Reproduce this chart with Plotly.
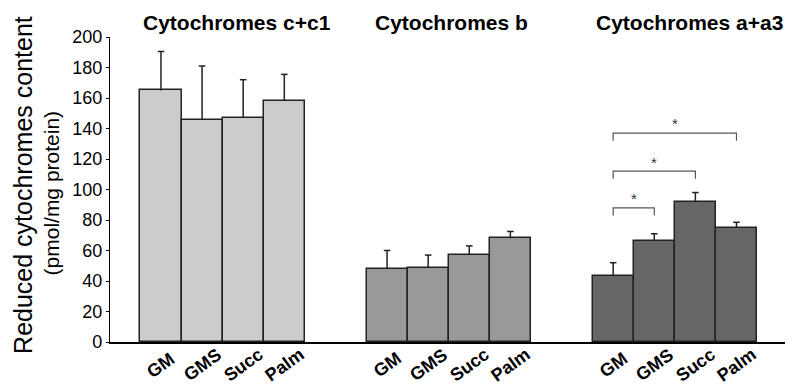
import plotly.graph_objects as go

# Reduced cytochrome content per substrate condition (pmol/mg protein)
conditions = ["GM", "GMS", "Succ", "Palm"]
panel_titles = ["Cytochromes c+c1", "Cytochromes b", "Cytochromes a+a3"]

cyt_cc1_mean = [165, 145.5, 147, 158]
cyt_cc1_sd = [25.5, 35.5, 25, 17.5]

cyt_b_mean = [48, 48.5, 57, 68]
cyt_b_sd = [12, 8.5, 6, 4.5]

cyt_aa3_mean = [43.5, 66.5, 92, 75]
cyt_aa3_sd = [8.5, 4.5, 6, 3.5]

bar_colors = ["#cccccc", "#999999", "#666666"]

# significance brackets in the a+a3 panel: (first, second, bracket height)
sig_pairs = [("GM", "GMS"), ("GM", "Succ"), ("GM", "Palm")]
sig_levels = [88, 112, 137]

y_ticks = [0, 20, 40, 60, 80, 100, 120, 140, 160, 180, 200]

group_offsets = [0, 5.5, 11]
means = [cyt_cc1_mean, cyt_b_mean, cyt_aa3_mean]
sds = [cyt_cc1_sd, cyt_b_sd, cyt_aa3_sd]
CAP = 0.08  # half-width of the error-bar cap, in bar units

fig = go.Figure()
for g, (m, s) in enumerate(zip(means, sds)):
    xs = [group_offsets[g] + i for i in range(len(conditions))]
    fig.add_trace(go.Bar(
        x=xs, y=m, width=1,
        marker=dict(color=bar_colors[g], line=dict(color="#222222", width=1.5)),
        showlegend=False, hoverinfo="skip",
    ))
    # one-sided (upper) error bars: stem plus top cap
    ex, ey = [], []
    for x, v, d in zip(xs, m, s):
        ex += [x, x, None, x - CAP, x + CAP, None]
        ey += [v, v + d, None, v + d, v + d, None]
    fig.add_trace(go.Scatter(
        x=ex, y=ey, mode="lines", line=dict(color="#222222", width=1.5),
        showlegend=False, hoverinfo="skip", cliponaxis=False,
    ))

# condition labels under each bar
annotations = []
for g in range(3):
    for i, c in enumerate(conditions):
        annotations.append(dict(
            x=group_offsets[g] + i, y=-0.075, xref="x", yref="paper",
            text=f"<b>{c}</b>", showarrow=False, textangle=-36,
            xanchor="center", yanchor="middle",
            font=dict(family="Liberation Sans, Arial", size=18, color="black"),
        ))

# panel titles
for t, px in zip(panel_titles, [236.7, 451, 689]):
    annotations.append(dict(
        x=(px - 110) / 675, y=1.049, xref="paper", yref="paper",
        text=f"<b>{t}</b>", showarrow=False, xanchor="center", yanchor="middle",
        font=dict(family="Liberation Sans, Arial", size=21, color="black"),
    ))

# y-axis title in two lines of different sizes
annotations.append(dict(
    x=(23 - 110) / 675, y=0.515, xref="paper", yref="paper",
    text="Reduced cytochromes content", showarrow=False, textangle=-90,
    xanchor="center", yanchor="middle",
    font=dict(family="Liberation Sans, Arial", size=25, color="black"),
))
annotations.append(dict(
    x=(51 - 110) / 675, y=0.487, xref="paper", yref="paper",
    text="(pmol/mg protein)", showarrow=False, textangle=-90,
    xanchor="center", yanchor="middle",
    font=dict(family="Liberation Sans, Arial", size=21, color="black"),
))

# significance brackets with stars
shapes = []
a_off = group_offsets[2]
for (a, b), lvl in zip(sig_pairs, sig_levels):
    x0 = a_off + conditions.index(a)
    x1 = a_off + conditions.index(b)
    shapes.append(dict(
        type="path", xref="x", yref="y",
        path=f"M {x0},{lvl - 5} L {x0},{lvl} L {x1},{lvl} L {x1},{lvl - 5}",
        line=dict(color="#555555", width=1.2),
    ))
    annotations.append(dict(
        x=(x0 + x1) / 2, y=lvl + 6, xref="x", yref="y",
        text="*", showarrow=False, xanchor="center", yanchor="middle",
        font=dict(family="Liberation Sans, Arial", size=15, color="#333333"),
    ))

fig.update_layout(
    width=788, height=388,
    margin=dict(l=110, r=3, t=37, b=46),
    plot_bgcolor="white", paper_bgcolor="white",
    bargap=0,
    xaxis=dict(range=[-1.24, 15.18], showticklabels=False, ticks="",
               showgrid=False, zeroline=False, showline=True,
               linecolor="black", linewidth=1.5),
    yaxis=dict(range=[0, 200], tickvals=y_ticks, ticks="outside", ticklen=3,
               tickcolor="black", showgrid=False, zeroline=False,
               showline=True, linecolor="black", linewidth=1.2,
               tickfont=dict(family="Liberation Sans, Arial", size=18, color="black")),
    annotations=annotations,
    shapes=shapes,
)

fig.write_html("out.html")
